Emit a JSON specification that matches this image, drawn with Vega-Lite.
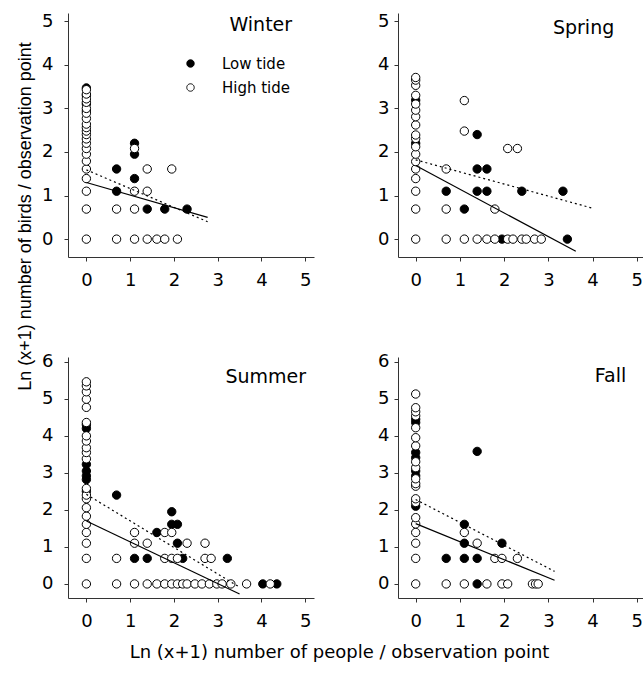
{
"$schema":"https://vega.github.io/schema/vega-lite/v6.json",
"background":"white",
"padding":{"left":15,"top":12,"right":0,"bottom":0},
"config":{"view":{"stroke":null},
 "axis":{"domainColor":"#333","tickColor":"#333","tickSize":4,"labelFont":"DejaVu Sans","labelFontSize":18,"labelColor":"black","grid":false,"domainWidth":1,"tickWidth":1,"title":null},
 "axisX":{"labelPadding":10,"labelFlush":false},
 "axisY":{"labelPadding":11},
 "text":{"font":"DejaVu Sans","fontSize":19,"color":"black","align":"right","baseline":"alphabetic"}},
"datasets":{
"pts":[
{"s":"Winter","t":"Low tide","x":0,"y":3.47},{"s":"Winter","t":"Low tide","x":0,"y":3.3},{"s":"Winter","t":"Low tide","x":0,"y":3.1},{"s":"Winter","t":"Low tide","x":0,"y":2.94},{"s":"Winter","t":"Low tide","x":0.69,"y":1.61},{"s":"Winter","t":"Low tide","x":0.69,"y":1.1},{"s":"Winter","t":"Low tide","x":1.1,"y":1.39},{"s":"Winter","t":"Low tide","x":1.1,"y":1.95},{"s":"Winter","t":"Low tide","x":1.1,"y":2.2},{"s":"Winter","t":"Low tide","x":1.39,"y":0.69},{"s":"Winter","t":"Low tide","x":1.79,"y":0.69},{"s":"Winter","t":"Low tide","x":2.3,"y":0.69},
{"s":"Winter","t":"High tide","x":0,"y":0},{"s":"Winter","t":"High tide","x":0,"y":0.69},{"s":"Winter","t":"High tide","x":0,"y":1.1},{"s":"Winter","t":"High tide","x":0,"y":1.39},{"s":"Winter","t":"High tide","x":0,"y":1.61},{"s":"Winter","t":"High tide","x":0,"y":1.79},{"s":"Winter","t":"High tide","x":0,"y":1.95},{"s":"Winter","t":"High tide","x":0,"y":2.08},{"s":"Winter","t":"High tide","x":0,"y":2.2},{"s":"Winter","t":"High tide","x":0,"y":2.3},{"s":"Winter","t":"High tide","x":0,"y":2.4},{"s":"Winter","t":"High tide","x":0,"y":2.48},{"s":"Winter","t":"High tide","x":0,"y":2.56},{"s":"Winter","t":"High tide","x":0,"y":2.64},{"s":"Winter","t":"High tide","x":0,"y":2.77},{"s":"Winter","t":"High tide","x":0,"y":2.89},{"s":"Winter","t":"High tide","x":0,"y":3.0},{"s":"Winter","t":"High tide","x":0,"y":3.14},{"s":"Winter","t":"High tide","x":0,"y":3.22},{"s":"Winter","t":"High tide","x":0,"y":3.33},{"s":"Winter","t":"High tide","x":0,"y":3.43},
{"s":"Winter","t":"High tide","x":0.69,"y":0},{"s":"Winter","t":"High tide","x":1.1,"y":0},{"s":"Winter","t":"High tide","x":1.39,"y":0},{"s":"Winter","t":"High tide","x":1.61,"y":0},{"s":"Winter","t":"High tide","x":1.79,"y":0},{"s":"Winter","t":"High tide","x":2.08,"y":0},{"s":"Winter","t":"High tide","x":0.69,"y":0.69},{"s":"Winter","t":"High tide","x":1.1,"y":0.69},{"s":"Winter","t":"High tide","x":1.1,"y":1.1},{"s":"Winter","t":"High tide","x":1.39,"y":1.1},{"s":"Winter","t":"High tide","x":1.39,"y":1.61},{"s":"Winter","t":"High tide","x":1.95,"y":1.61},{"s":"Winter","t":"High tide","x":1.1,"y":2.08},
{"s":"Spring","t":"Low tide","x":0,"y":2.2},{"s":"Spring","t":"Low tide","x":0,"y":3.19},{"s":"Spring","t":"Low tide","x":1.95,"y":0},{"s":"Spring","t":"Low tide","x":3.43,"y":0},{"s":"Spring","t":"Low tide","x":1.1,"y":0.69},{"s":"Spring","t":"Low tide","x":0.69,"y":1.1},{"s":"Spring","t":"Low tide","x":1.39,"y":1.1},{"s":"Spring","t":"Low tide","x":1.61,"y":1.1},{"s":"Spring","t":"Low tide","x":2.4,"y":1.1},{"s":"Spring","t":"Low tide","x":3.33,"y":1.1},{"s":"Spring","t":"Low tide","x":1.39,"y":1.61},{"s":"Spring","t":"Low tide","x":1.61,"y":1.61},{"s":"Spring","t":"Low tide","x":1.39,"y":2.4},
{"s":"Spring","t":"High tide","x":0,"y":0},{"s":"Spring","t":"High tide","x":0.69,"y":0},{"s":"Spring","t":"High tide","x":1.1,"y":0},{"s":"Spring","t":"High tide","x":1.39,"y":0},{"s":"Spring","t":"High tide","x":1.61,"y":0},{"s":"Spring","t":"High tide","x":1.79,"y":0},{"s":"Spring","t":"High tide","x":2.08,"y":0},{"s":"Spring","t":"High tide","x":2.2,"y":0},{"s":"Spring","t":"High tide","x":2.4,"y":0},{"s":"Spring","t":"High tide","x":2.5,"y":0},{"s":"Spring","t":"High tide","x":2.69,"y":0},{"s":"Spring","t":"High tide","x":2.84,"y":0},{"s":"Spring","t":"High tide","x":0,"y":0.69},{"s":"Spring","t":"High tide","x":0.69,"y":0.69},{"s":"Spring","t":"High tide","x":1.79,"y":0.69},{"s":"Spring","t":"High tide","x":0,"y":1.1},{"s":"Spring","t":"High tide","x":0,"y":1.39},{"s":"Spring","t":"High tide","x":0,"y":1.61},{"s":"Spring","t":"High tide","x":0.69,"y":1.61},{"s":"Spring","t":"High tide","x":2.08,"y":2.08},{"s":"Spring","t":"High tide","x":2.3,"y":2.08},{"s":"Spring","t":"High tide","x":1.1,"y":2.48},{"s":"Spring","t":"High tide","x":1.1,"y":3.18},
{"s":"Spring","t":"High tide","x":0,"y":1.78},{"s":"Spring","t":"High tide","x":0,"y":1.95},{"s":"Spring","t":"High tide","x":0,"y":2.12},{"s":"Spring","t":"High tide","x":0,"y":2.31},{"s":"Spring","t":"High tide","x":0,"y":2.39},{"s":"Spring","t":"High tide","x":0,"y":2.62},{"s":"Spring","t":"High tide","x":0,"y":2.81},{"s":"Spring","t":"High tide","x":0,"y":2.96},{"s":"Spring","t":"High tide","x":0,"y":3.1},{"s":"Spring","t":"High tide","x":0,"y":3.3},{"s":"Spring","t":"High tide","x":0,"y":3.53},{"s":"Spring","t":"High tide","x":0,"y":3.65},{"s":"Spring","t":"High tide","x":0,"y":3.71},
{"s":"Summer","t":"Low tide","x":0,"y":2.5},{"s":"Summer","t":"Low tide","x":0,"y":2.82},{"s":"Summer","t":"Low tide","x":0,"y":2.92},{"s":"Summer","t":"Low tide","x":0,"y":3.05},{"s":"Summer","t":"Low tide","x":0,"y":3.23},{"s":"Summer","t":"Low tide","x":0,"y":4.2},{"s":"Summer","t":"Low tide","x":0,"y":4.3},{"s":"Summer","t":"Low tide","x":0.69,"y":2.4},{"s":"Summer","t":"Low tide","x":1.1,"y":0.69},{"s":"Summer","t":"Low tide","x":1.39,"y":0.69},{"s":"Summer","t":"Low tide","x":2.2,"y":0.69},{"s":"Summer","t":"Low tide","x":3.22,"y":0.69},{"s":"Summer","t":"Low tide","x":2.08,"y":1.1},{"s":"Summer","t":"Low tide","x":1.61,"y":1.39},{"s":"Summer","t":"Low tide","x":1.95,"y":1.61},{"s":"Summer","t":"Low tide","x":2.08,"y":1.61},{"s":"Summer","t":"Low tide","x":1.95,"y":1.95},{"s":"Summer","t":"Low tide","x":4.03,"y":0},{"s":"Summer","t":"Low tide","x":4.35,"y":0},
{"s":"Summer","t":"High tide","x":0,"y":0},{"s":"Summer","t":"High tide","x":0,"y":0.69},{"s":"Summer","t":"High tide","x":0,"y":1.1},{"s":"Summer","t":"High tide","x":0,"y":1.39},{"s":"Summer","t":"High tide","x":0,"y":1.61},{"s":"Summer","t":"High tide","x":0,"y":1.83},{"s":"Summer","t":"High tide","x":0,"y":2.06},{"s":"Summer","t":"High tide","x":0,"y":2.3},{"s":"Summer","t":"High tide","x":0,"y":2.4},{"s":"Summer","t":"High tide","x":0,"y":2.58},{"s":"Summer","t":"High tide","x":0,"y":3.38},{"s":"Summer","t":"High tide","x":0,"y":3.55},{"s":"Summer","t":"High tide","x":0,"y":3.68},{"s":"Summer","t":"High tide","x":0,"y":3.86},{"s":"Summer","t":"High tide","x":0,"y":4.0},{"s":"Summer","t":"High tide","x":0,"y":4.36},{"s":"Summer","t":"High tide","x":0,"y":4.77},{"s":"Summer","t":"High tide","x":0,"y":4.99},{"s":"Summer","t":"High tide","x":0,"y":5.19},{"s":"Summer","t":"High tide","x":0,"y":5.35},{"s":"Summer","t":"High tide","x":0,"y":5.46},
{"s":"Summer","t":"High tide","x":0.69,"y":0},{"s":"Summer","t":"High tide","x":1.1,"y":0},{"s":"Summer","t":"High tide","x":1.39,"y":0},{"s":"Summer","t":"High tide","x":1.61,"y":0},{"s":"Summer","t":"High tide","x":1.79,"y":0},{"s":"Summer","t":"High tide","x":1.95,"y":0},{"s":"Summer","t":"High tide","x":2.08,"y":0},{"s":"Summer","t":"High tide","x":2.2,"y":0},{"s":"Summer","t":"High tide","x":2.3,"y":0},{"s":"Summer","t":"High tide","x":2.48,"y":0},{"s":"Summer","t":"High tide","x":2.64,"y":0},{"s":"Summer","t":"High tide","x":2.81,"y":0},{"s":"Summer","t":"High tide","x":2.98,"y":0},{"s":"Summer","t":"High tide","x":3.1,"y":0},{"s":"Summer","t":"High tide","x":3.3,"y":0},{"s":"Summer","t":"High tide","x":3.66,"y":0},{"s":"Summer","t":"High tide","x":4.2,"y":0},
{"s":"Summer","t":"High tide","x":0.69,"y":0.69},{"s":"Summer","t":"High tide","x":1.79,"y":0.69},{"s":"Summer","t":"High tide","x":1.95,"y":0.69},{"s":"Summer","t":"High tide","x":2.08,"y":0.69},{"s":"Summer","t":"High tide","x":2.71,"y":0.69},{"s":"Summer","t":"High tide","x":2.85,"y":0.69},{"s":"Summer","t":"High tide","x":1.1,"y":1.1},{"s":"Summer","t":"High tide","x":1.39,"y":1.1},{"s":"Summer","t":"High tide","x":2.3,"y":1.1},{"s":"Summer","t":"High tide","x":2.71,"y":1.1},{"s":"Summer","t":"High tide","x":1.1,"y":1.39},{"s":"Summer","t":"High tide","x":1.79,"y":1.39},{"s":"Summer","t":"High tide","x":1.95,"y":1.39},
{"s":"Fall","t":"Low tide","x":0,"y":2.1},{"s":"Fall","t":"Low tide","x":0,"y":2.92},{"s":"Fall","t":"Low tide","x":0,"y":3.05},{"s":"Fall","t":"Low tide","x":0,"y":3.41},{"s":"Fall","t":"Low tide","x":0,"y":3.55},{"s":"Fall","t":"Low tide","x":0,"y":4.36},{"s":"Fall","t":"Low tide","x":0,"y":4.45},{"s":"Fall","t":"Low tide","x":1.39,"y":0},{"s":"Fall","t":"Low tide","x":0.69,"y":0.69},{"s":"Fall","t":"Low tide","x":1.1,"y":0.69},{"s":"Fall","t":"Low tide","x":1.39,"y":0.69},{"s":"Fall","t":"Low tide","x":1.1,"y":1.1},{"s":"Fall","t":"Low tide","x":1.95,"y":1.1},{"s":"Fall","t":"Low tide","x":1.1,"y":1.61},{"s":"Fall","t":"Low tide","x":1.39,"y":3.58},
{"s":"Fall","t":"High tide","x":0,"y":0},{"s":"Fall","t":"High tide","x":0,"y":0.69},{"s":"Fall","t":"High tide","x":0,"y":1.1},{"s":"Fall","t":"High tide","x":0,"y":1.39},{"s":"Fall","t":"High tide","x":0,"y":1.62},{"s":"Fall","t":"High tide","x":0,"y":1.79},{"s":"Fall","t":"High tide","x":0,"y":2.2},{"s":"Fall","t":"High tide","x":0,"y":2.3},{"s":"Fall","t":"High tide","x":0,"y":2.64},{"s":"Fall","t":"High tide","x":0,"y":2.71},{"s":"Fall","t":"High tide","x":0,"y":2.84},{"s":"Fall","t":"High tide","x":0,"y":3.14},{"s":"Fall","t":"High tide","x":0,"y":3.3},{"s":"Fall","t":"High tide","x":0,"y":3.73},{"s":"Fall","t":"High tide","x":0,"y":3.95},{"s":"Fall","t":"High tide","x":0,"y":4.22},{"s":"Fall","t":"High tide","x":0,"y":4.54},{"s":"Fall","t":"High tide","x":0,"y":4.65},{"s":"Fall","t":"High tide","x":0,"y":4.76},{"s":"Fall","t":"High tide","x":0,"y":5.13},
{"s":"Fall","t":"High tide","x":0.69,"y":0},{"s":"Fall","t":"High tide","x":1.1,"y":0},{"s":"Fall","t":"High tide","x":1.61,"y":0},{"s":"Fall","t":"High tide","x":1.95,"y":0},{"s":"Fall","t":"High tide","x":2.08,"y":0},{"s":"Fall","t":"High tide","x":2.64,"y":0},{"s":"Fall","t":"High tide","x":2.71,"y":0},{"s":"Fall","t":"High tide","x":2.77,"y":0},{"s":"Fall","t":"High tide","x":1.79,"y":0.69},{"s":"Fall","t":"High tide","x":1.95,"y":0.69},{"s":"Fall","t":"High tide","x":2.3,"y":0.69},{"s":"Fall","t":"High tide","x":1.39,"y":1.1},{"s":"Fall","t":"High tide","x":1.1,"y":1.39}
],
"fits":[
{"s":"Winter","k":"low","x":0,"y":1.3},{"s":"Winter","k":"low","x":2.77,"y":0.5},
{"s":"Winter","k":"high","x":0,"y":1.59},{"s":"Winter","k":"high","x":2.77,"y":0.4},
{"s":"Spring","k":"low","x":0,"y":1.69},{"s":"Spring","k":"low","x":3.62,"y":-0.28},
{"s":"Spring","k":"high","x":0,"y":1.82},{"s":"Spring","k":"high","x":4.0,"y":0.71},
{"s":"Summer","k":"low","x":0,"y":1.7},{"s":"Summer","k":"low","x":3.5,"y":-0.27},
{"s":"Summer","k":"high","x":0,"y":2.42},{"s":"Summer","k":"high","x":3.46,"y":-0.06},
{"s":"Fall","k":"low","x":0,"y":1.63},{"s":"Fall","k":"low","x":3.14,"y":0.1},
{"s":"Fall","k":"high","x":0,"y":2.28},{"s":"Fall","k":"high","x":3.14,"y":0.34}
]},
"title":{"text":"Ln (x+1) number of people / observation point","orient":"bottom","anchor":"middle","frame":"bounds","font":"DejaVu Sans","fontSize":18,"fontWeight":"normal","color":"black","offset":14,"dx":10},
"vconcat":[{
 "bounds":"flush","columns":2,"spacing":{"row":100,"column":84},
 "resolve":{"scale":{"fill":"independent"},"legend":{"fill":"independent"}},
 "concat":[
  {"width":246,"height":244,
   "layer":[
    {"data":{"name":"pts"},"transform":[{"filter":"datum.s==='Winter'"}],
     "mark":{"type":"point","filled":true,"size":70,"stroke":"black","strokeWidth":1,"opacity":1},
     "encoding":{
      "x":{"field":"x","type":"quantitative","scale":{"domain":[-0.42,5.2],"nice":false,"zero":false},"axis":{"values":[0,1,2,3,4,5]}},
      "y":{"field":"y","type":"quantitative","scale":{"domain":[-0.41,5.19],"nice":false,"zero":false},
        "axis":{"values":[0,1,2,3,4,5],"labelPadding":11,"title":"Ln (x+1) number of birds / observation point","titleFont":"Liberation Sans","titleFontSize":18,"titleFontWeight":"normal","titleColor":"black","titleAngle":270,"titleAlign":"center","titleBaseline":"middle","titleX":-43,"titleY":203}},
      "fill":{"field":"t","type":"nominal","scale":{"domain":["Low tide","High tide"],"range":["black","white"]},
        "legend":{"orient":"none","legendX":115,"legendY":43,"title":null,"labelFont":"DejaVu Sans","labelFontSize":15,"labelColor":"black","symbolType":"circle","symbolSize":55,"symbolStrokeColor":"black","symbolStrokeWidth":1,"symbolDash":[1,0],"labelOffset":24,"rowPadding":8,"padding":0}}}},
    {"data":{"name":"fits"},"transform":[{"filter":"datum.s==='Winter' && datum.k==='low'"}],
     "mark":{"type":"line","color":"black","strokeWidth":1.2},
     "encoding":{"x":{"field":"x","type":"quantitative"},"y":{"field":"y","type":"quantitative"}}},
    {"data":{"name":"fits"},"transform":[{"filter":"datum.s==='Winter' && datum.k==='high'"}],
     "mark":{"type":"line","color":"black","strokeWidth":1.2,"strokeDash":[2,3]},
     "encoding":{"x":{"field":"x","type":"quantitative"},"y":{"field":"y","type":"quantitative"}}},
    {"data":{"values":[{"s":"Winter"}]},"mark":{"type":"text"},
     "encoding":{"x":{"datum":4.7},"y":{"datum":4.77},"text":{"field":"s"}}}
   ]},
  {"width":245,"height":244,
   "layer":[
    {"data":{"name":"pts"},"transform":[{"filter":"datum.s==='Spring'"}],
     "mark":{"type":"point","filled":true,"size":70,"stroke":"black","strokeWidth":1,"opacity":1},
     "encoding":{
      "x":{"field":"x","type":"quantitative","scale":{"domain":[-0.4,5.14],"nice":false,"zero":false},"axis":{"values":[0,1,2,3,4,5]}},
      "y":{"field":"y","type":"quantitative","scale":{"domain":[-0.41,5.19],"nice":false,"zero":false},"axis":{"values":[0,1,2,3,4,5],"labelPadding":5}},
      "fill":{"field":"t","type":"nominal","scale":{"domain":["Low tide","High tide"],"range":["black","white"]},"legend":null}}},
    {"data":{"name":"fits"},"transform":[{"filter":"datum.s==='Spring' && datum.k==='low'"}],
     "mark":{"type":"line","color":"black","strokeWidth":1.2},
     "encoding":{"x":{"field":"x","type":"quantitative"},"y":{"field":"y","type":"quantitative"}}},
    {"data":{"name":"fits"},"transform":[{"filter":"datum.s==='Spring' && datum.k==='high'"}],
     "mark":{"type":"line","color":"black","strokeWidth":1.2,"strokeDash":[2,3]},
     "encoding":{"x":{"field":"x","type":"quantitative"},"y":{"field":"y","type":"quantitative"}}},
    {"data":{"values":[{"s":"Spring"}]},"mark":{"type":"text"},
     "encoding":{"x":{"datum":4.49},"y":{"datum":4.7},"text":{"field":"s"}}}
   ]},
  {"width":246,"height":241,
   "layer":[
    {"data":{"name":"pts"},"transform":[{"filter":"datum.s==='Summer'"}],
     "mark":{"type":"point","filled":true,"size":70,"stroke":"black","strokeWidth":1,"opacity":1},
     "encoding":{
      "x":{"field":"x","type":"quantitative","scale":{"domain":[-0.42,5.2],"nice":false,"zero":false},"axis":{"values":[0,1,2,3,4,5]}},
      "y":{"field":"y","type":"quantitative","scale":{"domain":[-0.38,6.13],"nice":false,"zero":false},"axis":{"values":[0,1,2,3,4,5,6],"labelPadding":11}},
      "fill":{"field":"t","type":"nominal","scale":{"domain":["Low tide","High tide"],"range":["black","white"]},"legend":null}}},
    {"data":{"name":"fits"},"transform":[{"filter":"datum.s==='Summer' && datum.k==='low'"}],
     "mark":{"type":"line","color":"black","strokeWidth":1.2},
     "encoding":{"x":{"field":"x","type":"quantitative"},"y":{"field":"y","type":"quantitative"}}},
    {"data":{"name":"fits"},"transform":[{"filter":"datum.s==='Summer' && datum.k==='high'"}],
     "mark":{"type":"line","color":"black","strokeWidth":1.2,"strokeDash":[2,3]},
     "encoding":{"x":{"field":"x","type":"quantitative"},"y":{"field":"y","type":"quantitative"}}},
    {"data":{"values":[{"s":"Summer"}]},"mark":{"type":"text"},
     "encoding":{"x":{"datum":5.02},"y":{"datum":5.43},"text":{"field":"s"}}}
   ]},
  {"width":245,"height":241,
   "layer":[
    {"data":{"name":"pts"},"transform":[{"filter":"datum.s==='Fall'"}],
     "mark":{"type":"point","filled":true,"size":70,"stroke":"black","strokeWidth":1,"opacity":1},
     "encoding":{
      "x":{"field":"x","type":"quantitative","scale":{"domain":[-0.4,5.14],"nice":false,"zero":false},"axis":{"values":[0,1,2,3,4,5]}},
      "y":{"field":"y","type":"quantitative","scale":{"domain":[-0.38,6.13],"nice":false,"zero":false},"axis":{"values":[0,1,2,3,4,5,6],"labelPadding":5}},
      "fill":{"field":"t","type":"nominal","scale":{"domain":["Low tide","High tide"],"range":["black","white"]},"legend":null}}},
    {"data":{"name":"fits"},"transform":[{"filter":"datum.s==='Fall' && datum.k==='low'"}],
     "mark":{"type":"line","color":"black","strokeWidth":1.2},
     "encoding":{"x":{"field":"x","type":"quantitative"},"y":{"field":"y","type":"quantitative"}}},
    {"data":{"name":"fits"},"transform":[{"filter":"datum.s==='Fall' && datum.k==='high'"}],
     "mark":{"type":"line","color":"black","strokeWidth":1.2,"strokeDash":[2,3]},
     "encoding":{"x":{"field":"x","type":"quantitative"},"y":{"field":"y","type":"quantitative"}}},
    {"data":{"values":[{"s":"Fall"}]},"mark":{"type":"text"},
     "encoding":{"x":{"datum":4.76},"y":{"datum":5.46},"text":{"field":"s"}}}
   ]}
 ]
}]
}
